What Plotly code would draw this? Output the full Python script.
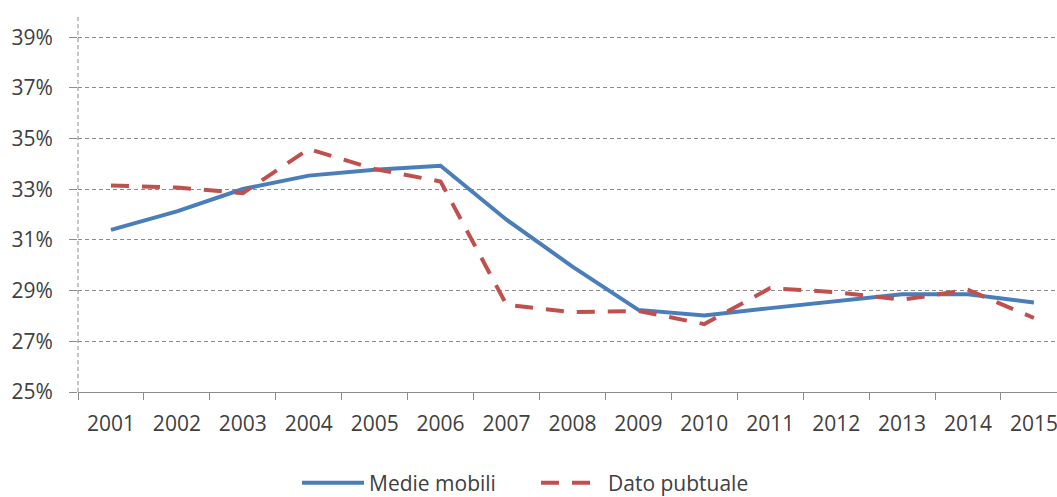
import plotly.graph_objects as go

years = ["2001", "2002", "2003", "2004", "2005", "2006", "2007", "2008",
         "2009", "2010", "2011", "2012", "2013", "2014", "2015"]
medie_mobili = [31.40, 32.13, 33.01, 33.54, 33.77, 33.93, 31.80, 29.95,
                28.24, 28.02, 28.31, 28.60, 28.86, 28.86, 28.53]
dato_puntuale = [33.15, 33.07, 32.85, 34.59, 33.80, 33.31, 28.44, 28.15,
                 28.20, 27.68, 29.10, 28.94, 28.64, 29.03, 27.92]
y_ticks = [25, 27, 29, 31, 33, 35, 37, 39]

medie = [v / 100 for v in medie_mobili]
dato = [v / 100 for v in dato_puntuale]

FONT = "Open Sans"
TXT = "#404040"

fig = go.Figure()
fig.add_trace(go.Scatter(
    x=years, y=medie, mode="lines", name="Medie mobili",
    line=dict(color="#4A7EBB", width=4),
))
fig.add_trace(go.Scatter(
    x=years, y=dato, mode="lines", name="Dato pubtuale",
    line=dict(color="#C0504D", width=4, dash="18px,13px"),
))

fig.update_layout(
    width=1057, height=497,
    margin=dict(l=78, r=0, t=17, b=105),
    paper_bgcolor="white", plot_bgcolor="white",
    font=dict(family=FONT, size=21, color=TXT),
    showlegend=True,
    legend=dict(orientation="h", x=0.2237, xanchor="left",
                yref="container", y=0.028, yanchor="middle",
                font=dict(family=FONT, size=21, color=TXT),
                itemwidth=62, entrywidth=162, entrywidthmode="pixels",
                traceorder="normal"),
    xaxis=dict(
        type="category", range=[-0.5, 14.35], automargin=False,
        showgrid=False, showline=True, linecolor="#8C8C8C", linewidth=1,
        ticks="outside", tickson="boundaries", ticklen=7, tickcolor="#8C8C8C",
        tickfont=dict(family=FONT, size=21, color=TXT),
        ticklabelstandoff=13, zeroline=False,
    ),
    yaxis=dict(
        range=[0.25, 0.398], automargin=False,
        tickvals=[v / 100 for v in y_ticks],
        ticktext=[f"{v}%" for v in y_ticks],
        showgrid=True, gridcolor="#8C8C8C", gridwidth=1, griddash="4px,3px",
        showline=False, zeroline=False,
        ticks="outside", ticklen=8, tickcolor="#8C8C8C",
        tickfont=dict(family=FONT, size=21, color=TXT),
        ticklabelstandoff=12,
    ),
)
fig.add_shape(type="line", xref="paper", yref="paper", x0=0, x1=0, y0=0, y1=1,
              line=dict(color="#8C8C8C", width=1, dash="4px,3px"), layer="below")

fig.write_html(
    "out.html",
    config={"displayModeBar": False},
    post_script="document.body.style.margin='0';document.body.style.overflow='hidden';",
)
